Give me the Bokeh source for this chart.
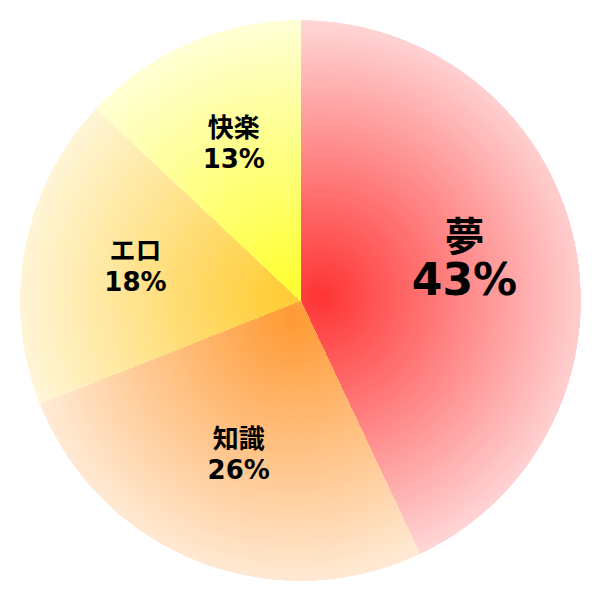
import numpy as np
from bokeh.plotting import figure
from bokeh.models import Range1d, ColumnDataSource
from bokeh.core.properties import value
from bokeh.embed import file_html
from bokeh.resources import INLINE

# ---- data ----
labels = ["夢", "知識", "エロ", "快楽"]
percents = [43, 26, 18, 13]
pct_labels = ["43%", "26%", "18%", "13%"]
center_colors = ["#ff3333", "#ff9933", "#ffcc33", "#ffff33"]
edge_colors = ["#ffd8d8", "#ffeedd", "#fff8e0", "#ffffe0"]

# ---- style ----
R = 280.0
FOCAL_OFFSET = 20.0
GRAD_R = 280.0
N_LEVELS = 90
N_ANG = 540
LABEL_R = 0.6 * R
name_sizes = ["40px", "26px", "26px", "26px"]
pct_sizes = ["44px", "26px", "26px", "26px"]
name_dy = [-27, -18, -18, -18]
pct_dy = [16, 13, 13, 13]
FONT = "DejaVu Sans, Noto Sans CJK JP"


def hex2rgb(h):
    h = h.lstrip("#")
    return np.array([int(h[i:i + 2], 16) for i in (0, 2, 4)], dtype=float)


def rgb2hex(c):
    c = np.clip(np.round(c), 0, 255).astype(int)
    return "#%02x%02x%02x" % tuple(c)


p = figure(width=584, height=584, output_backend="svg", toolbar_location=None,
           x_range=Range1d(-300, 284), y_range=Range1d(-284, 300),
           min_border=0)
p.axis.visible = False
p.grid.visible = False
p.outline_line_color = None
p.background_fill_color = "white"
p.border_fill_color = "white"

xs, ys, cols = [], [], []
cum = 0.0
mids = []
for i, pc in enumerate(percents):
    a0 = np.deg2rad(90.0 - 3.6 * cum)
    a1 = np.deg2rad(90.0 - 3.6 * (cum + pc))
    cum += pc
    mid = 0.5 * (a0 + a1)
    mids.append(mid)
    F = FOCAL_OFFSET * np.array([np.cos(mid), np.sin(mid)])
    e0 = np.array([np.cos(a0), np.sin(a0)])
    e1 = np.array([np.cos(a1), np.sin(a1)])
    n0 = np.array([e0[1], -e0[0]])
    n1 = np.array([-e1[1], e1[0]])
    th = list(np.linspace(-np.pi, np.pi, N_ANG, endpoint=False))
    for q in (np.zeros(2), R * e0, R * e1):
        d = q - F
        th.append(np.arctan2(d[1], d[0]))
    th = np.sort(np.array(th))
    u = np.stack([np.cos(th), np.sin(th)], axis=1)
    b = u @ F
    s_circ = -b + np.sqrt(b * b - (F @ F - R * R))
    r = s_circ.copy()
    for n in (n0, n1):
        nu = u @ n
        nF = n @ F
        with np.errstate(divide="ignore", invalid="ignore"):
            s = np.where(nu < -1e-12, -nF / nu, np.inf)
        r = np.minimum(r, s)
    c0 = hex2rgb(center_colors[i])
    c1 = hex2rgb(edge_colors[i])
    xs.append(F[0] + r * u[:, 0])
    ys.append(F[1] + r * u[:, 1])
    cols.append(edge_colors[i])
    for k in range(N_LEVELS):
        t = 1.0 - k / N_LEVELS
        rt = np.minimum(r, t * GRAD_R)
        xs.append(F[0] + rt * u[:, 0])
        ys.append(F[1] + rt * u[:, 1])
        cols.append(rgb2hex(c0 + (c1 - c0) * t))

p.patches(xs=xs, ys=ys, fill_color=cols, line_color=None)

mids = np.array(mids)
src = ColumnDataSource(dict(
    x=LABEL_R * np.cos(mids), y=LABEL_R * np.sin(mids),
    name=labels, pct=pct_labels,
    nsize=name_sizes, psize=pct_sizes, ndy=name_dy, pdy=pct_dy,
))
p.text(x="x", y="y", text="name", source=src, text_font=value(FONT),
       text_font_size="nsize", text_font_style="bold", text_align="center",
       text_baseline="middle", y_offset="ndy", text_color="black")
p.text(x="x", y="y", text="pct", source=src, text_font=value(FONT),
       text_font_size="psize", text_font_style="bold", text_align="center",
       text_baseline="middle", y_offset="pdy", text_color="black")

open("out.html", "w").write(file_html(p, INLINE))
